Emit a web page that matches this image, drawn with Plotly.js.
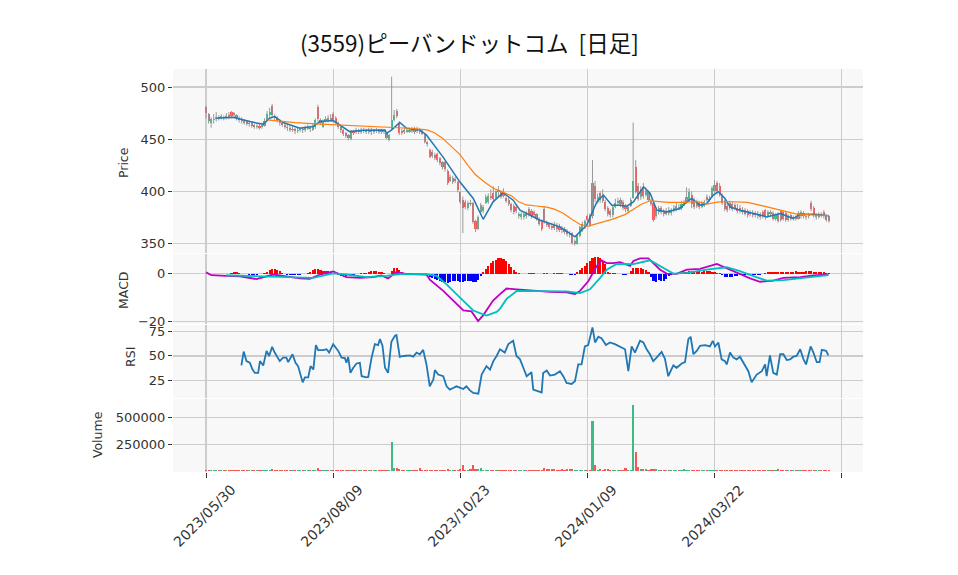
<!DOCTYPE html>
<html>
<head>
<meta charset="utf-8">
<script src="https://cdn.plot.ly/plotly-3.0.1.min.js"></script>
<style>
  body { margin: 0; background: #fff; }
  #chart { width: 958px; height: 575px; }
</style>
</head>
<body>
<div id="chart"></div>
<script>
// 営業日インデックスで描く (0 = 2023/05/30)
const tickIdx = [0, 50, 100, 150, 200, 250];
const tickLabels = ['2023/05/30', '2023/08/09', '2023/10/23', '2024/01/09', '2024/03/22', ''];

// ローソク足
const open = [
  481,474,466,468,469,471,470,471,470,473,
  476,475,473,470,469,467,467,465,466,464,
  462,463,462,463,468,473,482,472,470,468,
  466,464,462,461,459,460,458,459,460,459,
  460,461,459,462,481,468,462,467,470,468,
  474,470,466,462,459,456,454,450,457,457,
  459,457,459,458,457,459,457,458,459,458,
  458,456,449,460,468,477,466,458,459,457,
  457,461,460,460,460,458,455,447,440,438,
  435,436,432,428,428,420,410,409,412,409,
  399,392,390,384,389,389,372,364,380,381,
  389,390,396,398,394,401,399,398,394,392,
  388,386,385,376,375,375,378,383,381,380,
  378,374,372,383,371,369,367,368,367,366,
  365,364,362,360,360,350,350,357,363,366,
  376,377,376,405,390,398,396,390,384,381,
  377,385,389,392,390,386,381,386,394,423,
  405,395,404,397,399,391,389,376,380,384,
  380,378,382,379,382,383,385,384,388,390,
  392,397,392,390,389,385,386,395,392,395,
  400,408,405,396,390,386,389,388,387,384,
  384,382,382,381,380,379,379,378,378,380,
  382,376,380,379,374,378,381,380,379,373,
  377,374,375,374,376,379,376,377,389,384,
  375,375,378,380,376,376
];
const high = [
  482,475,471,474,476,473,474,473,475,476,
  477,476,474,472,471,469,468,468,467,465,
  465,465,466,470,477,480,484,474,472,469,
  467,466,464,463,462,461,461,462,462,463,
  464,463,465,470,483,470,469,472,473,474,
  476,472,467,463,460,457,455,459,459,461,
  460,461,461,460,461,461,460,461,460,460,
  459,457,455,510,478,479,467,460,461,461,
  461,462,462,462,461,459,456,448,441,440,
  437,437,433,429,429,421,416,415,414,410,
  400,395,392,391,392,390,373,377,389,387,
  397,398,402,405,401,405,401,403,395,394,
  389,388,387,380,380,380,381,385,383,382,
  379,375,373,386,372,370,370,371,370,369,
  367,366,364,362,361,354,359,367,371,373,
  378,379,430,410,398,400,402,392,386,383,
  387,393,394,394,392,388,387,394,466,430,
  408,405,408,404,401,393,390,385,386,386,
  383,384,385,384,387,389,388,391,392,404,
  403,400,394,392,391,391,392,397,396,405,
  411,410,408,398,392,389,391,390,389,388,
  387,385,384,383,382,382,381,381,380,382,
  383,382,382,381,379,380,382,382,381,378,
  379,377,377,381,382,381,378,379,391,386,
  379,380,380,382,378,377
];
const low = [
  470,465,461,465,467,468,469,468,469,469,
  470,470,468,466,465,464,463,462,461,460,
  460,459,460,462,467,471,471,468,466,463,
  462,460,458,457,457,455,456,457,456,457,
  459,457,458,460,467,464,461,466,466,467,
  466,464,460,456,453,451,449,449,454,455,
  455,455,456,455,455,454,455,456,455,455,
  455,450,448,459,467,470,454,454,455,456,
  456,456,455,456,455,454,446,443,432,432,
  430,428,425,421,419,406,409,407,408,399,
  388,360,383,382,386,369,361,363,378,379,
  388,388,392,391,392,394,393,394,389,386,
  380,378,379,374,373,373,374,376,374,375,
  372,367,362,369,366,364,363,363,361,361,
  360,359,357,356,349,348,349,356,361,364,
  371,366,374,390,388,389,389,381,376,375,
  375,384,387,385,382,380,380,385,393,398,
  391,392,393,395,390,386,371,374,378,378,
  376,377,377,377,380,381,382,382,386,388,
  390,384,383,384,383,384,385,390,390,394,
  398,397,395,387,381,380,382,381,382,379,
  379,378,377,375,376,375,375,374,373,374,
  373,375,376,372,372,370,371,372,371,371,
  372,372,372,373,374,374,373,374,381,375,
  373,374,375,374,371,370
];
const close = [
  475,467,469,469,471,470,472,470,472,471,
  472,473,470,468,467,466,465,466,463,462,
  463,461,464,467,474,476,473,470,468,466,
  464,462,461,459,460,458,459,460,459,461,
  462,460,463,468,469,466,467,469,468,470,
  468,466,462,459,455,453,451,457,456,459,
  457,459,458,457,459,457,458,459,457,457,
  457,451,454,468,473,472,456,456,457,459,
  459,458,457,458,457,455,447,445,433,434,
  432,430,427,423,421,408,414,413,410,401,
  390,384,385,389,388,371,364,375,387,385,
  395,396,394,393,400,399,395,396,391,388,
  382,380,381,378,378,378,376,378,376,377,
  374,369,364,371,368,366,365,365,364,363,
  363,361,359,358,351,352,357,366,369,372,
  373,368,408,393,395,392,391,383,378,377,
  385,389,391,388,384,383,385,392,410,399,
  393,402,396,400,392,388,373,383,384,380,
  378,381,379,382,384,386,384,388,390,395,
  399,388,385,386,385,389,390,392,393,403,
  406,400,397,389,383,382,384,383,384,381,
  381,380,378,377,378,377,377,376,375,376,
  375,380,378,374,377,372,373,374,373,376,
  374,375,374,379,380,376,375,376,383,377,
  377,378,377,376,373,372
];
const volume = [
  14000,9000,12000,8000,10000,12000,9000,8000,13000,12000,
  12000,8000,6000,6000,7000,6000,6000,5000,6000,6000,
  5000,6000,6000,8000,9000,14000,16000,8000,6000,6000,
  6000,5000,6000,5000,6000,5000,6000,5000,5000,6000,
  6000,5000,8000,12000,32000,12000,8000,6000,6000,6000,
  7000,6000,6000,5000,6000,6000,6000,7000,5000,5000,
  5000,5000,5000,5000,5000,5000,5000,6000,5000,5000,
  6000,10000,12000,268000,31000,28000,18000,9000,7000,6000,
  6000,5000,6000,8000,28000,10000,12000,8000,14000,10000,
  8000,14000,10000,14000,12000,16000,8000,7000,9000,12000,
  20000,58000,14000,10000,18000,58000,22000,16000,26000,12000,
  10000,8000,14000,9000,8000,12000,9000,7000,8000,12000,
  10000,8000,7000,7000,6000,6000,7000,12000,8000,7000,
  8000,9000,12000,31000,20000,20000,20000,18000,14000,12000,
  16000,14000,18000,20000,16000,14000,12000,10000,8000,9000,
  10000,12000,466000,55000,12000,20000,12000,18000,16000,10000,
  8000,9000,8000,7000,8000,31000,12000,14000,614000,178000,
  37000,20000,18000,20000,14000,21000,21000,16000,10000,12000,
  10000,12000,8000,7000,12000,8000,7000,9000,21000,12000,
  10000,12000,8000,7000,6000,7000,12000,8000,12000,10000,
  14000,8000,7000,6000,6000,6000,6000,5000,6000,5000,
  5000,5000,6000,5000,5000,5000,5000,6000,5000,5000,
  5000,6000,5000,6000,5000,21000,8000,12000,6000,5000,
  5000,5000,6000,5000,6000,5000,5000,6000,8000,6000,
  5000,6000,5000,5000,6000,5000
];

// 移動平均 (読み取り点)
const ma5X = [4,10.6,17.2,22.5,25,27,30.3,36.9,42.1,44.8,
  50,52.6,56.5,62,70.4,71,73,76.2,78.9,84.1,
  86.7,93.3,99.8,105.1,109,112.9,116.8,120.8,123.5,131.4,
  139.2,145.1,149.7,153.7,156.3,159.6,162.9,165.5,168.1,172.1,
  174.7,177.3,181.2,186.4,188.4,191,194.3,196.9,199.5,201.5,
  204.1,206.1,210,216.6,220.5,225.8,231,233.6,238.9,245];
const ma5Y = [470,471.1,466.9,464.4,470.1,471.7,466,460.5,462.1,466.9,
  467.9,463.7,457.3,458.5,458.9,455.7,459,466,460.5,458.9,
  454.1,432.6,409.2,393.2,373.3,390,398.7,391.6,382,372.4,
  366,356.4,367.6,390,396.5,386.8,386.8,385.8,390,404.4,
  398,382,380.4,383.6,388.4,393.2,386.8,388.4,396.5,399.7,
  393.2,385.2,382,378.2,375.6,378.8,374,378.2,378.2,376.6];
const ma25X = [24,35,45,55,62,74,80,87,90,93,
  96,100,103,106,110,113,116,120,123,126,
  130,134,137,140.5,144,147,150,153,156,160,
  165,168,171,174.6,178,182,188,193,197,201,
  205,213,219,226,232,238,245];
const ma25Y = [468.5,466,464.5,463.5,462.7,461.4,460.5,458.9,456,451,
  444,435,425,416,408,403,400,396,390,387,
  386,385,383,379,373,368.5,366.6,368.5,370.7,373.5,
  378,383,387.5,391,390,389.4,389.5,390.3,387.8,389.7,
  390.3,389.4,386.2,381.7,378.5,377.5,376.9];

// MACD
const macdX = [0,2.1,8,13.3,19.8,26.4,31.6,36.9,40.8,44.8,
  50,55.2,60.5,65.7,69,71.6,74.9,78.9,86.7,88,
  93.3,97.2,101.2,104.4,107,109,112.9,115.6,118.2,122.2,
  128.7,135.3,141.8,145.1,147.1,150.4,153.6,155.6,157.6,160.2,
  162.8,165.5,166.8,168.1,170.7,174,176,178.6,181.2,185.1,
  189.1,194.3,200.9,207.4,214,217.9,223.2,227.1,233.7,238.9,
  244.8];
const macdY = [0.5,-0.7,-1.0,-1.2,-2.3,-0.4,-1.2,-2.0,-2.2,-0.4,
  0.9,-1.5,-1.8,-1.5,-0.8,-2.0,0.7,-0.2,-0.4,-2.5,
  -7.2,-11.2,-15.3,-15.7,-19.7,-17.3,-11.2,-8.5,-6.2,-6.6,
  -7.2,-7.6,-7.8,-8.5,-7.2,-3.1,3.0,5.4,4.3,4.3,
  4.7,3.6,3.2,5.2,6.3,6.3,4.3,1.6,0,-0.1,
  1.6,1.9,4.0,0.9,-2.0,-3.4,-2.9,-1.8,-1.5,-0.8,
  -0.4];
const signalX = [8,17.5,26.4,36.9,42.1,50,55.2,63.1,71,76.2,
  86.7,90.7,94.6,99.8,105.1,110.3,114.3,115.6,118.2,122.2,
  128.7,141.8,147.1,151,155,157.6,161.5,168.1,174.6,178.6,
  183.8,189.1,196.9,204.8,210,215.3,220.5,227.1,233.7,244.8];
const signalY = [-0.7,-1.0,-1.2,-1.5,-1.8,0.1,-0.4,-1.5,-1.0,-0.2,
  -0.2,-1.0,-4.5,-9.9,-15.3,-17.4,-15.9,-14.6,-10.5,-7.2,
  -7.2,-7.4,-8.1,-6.5,-1.8,1.6,4.0,3.9,5.5,3.0,
  0,0.3,1.6,2.6,1.0,-1.1,-2.9,-2.7,-2.0,-0.7];
const hist = [
  null,null,null,null,null,null,null,null,-0.3,-0.2,
  0.1,0.5,0.5,0.1,-0.2,-0.3,-0.3,-0.5,-0.6,-0.5,
  -0.4,-0.3,-0.1,0.3,0.8,1.3,1.9,1.9,1.5,1.0,
  0.4,-0.2,-0.5,-0.6,-0.7,-0.7,-0.6,-0.5,-0.3,-0.1,
  0.3,0.8,1.3,1.9,1.9,1.6,1.0,0.9,1.0,0.7,
  0.3,-0.3,-0.8,-1.0,-1.1,-1.0,-0.8,-0.6,-0.4,-0.2,
  -0.1,0.1,0.2,0.3,0.6,0.9,1.0,1.0,0.8,0.5,
  0.1,-0.3,-0.2,1.2,2.2,2.3,1.5,0.8,0.4,0.2,
  0.1,0.1,0.0,-0.1,0.0,-0.1,-0.2,-0.5,-1.3,-1.8,
  -2.3,-2.7,-3.0,-3.3,-3.5,-3.8,-3.4,-3.2,-3.0,-3.1,
  -3.4,-3.3,-3.0,-2.9,-3.1,-3.5,-3.4,-2.6,-0.9,0.5,
  1.9,3.2,4.3,5.2,5.8,6.3,6.4,6.0,5.1,4.0,
  2.8,1.6,0.8,0.3,-0.2,-0.3,-0.2,0.2,0.3,0.1,
  -0.2,-0.3,-0.2,0.2,0.1,-0.1,0.0,0.1,0.3,0.2,
  0.1,-0.1,-0.3,-0.6,-0.6,-0.4,0.6,1.6,2.3,3.0,
  4.3,5.3,6.3,7.0,7.0,6.5,5.3,3.9,0.7,0.4,
  0.3,0.2,-0.2,-0.3,-0.5,-0.4,-0.2,1.0,2.3,2.3,
  2.3,2.3,2.0,1.5,0.8,-1.5,-3.1,-3.4,-2.8,-3.1,
  -3.0,-2.4,-1.1,-0.4,0.2,0.3,-0.2,0.3,0.6,0.8,
  0.9,1.0,0.8,0.9,1.0,0.8,0.9,1.0,0.9,0.7,
  0.5,0.3,0.1,-0.8,-1.3,-1.5,-1.5,-1.4,-1.2,-0.9,
  -0.8,-0.8,-0.7,-0.8,-0.7,-0.6,-0.6,-0.5,-0.4,-0.2,
  0.3,0.5,0.6,0.5,0.6,0.7,0.5,0.6,0.8,0.7,
  0.6,0.8,0.9,0.7,0.6,0.8,0.9,1.0,0.9,0.8,
  0.7,0.6,0.5,0.6,0.4,0.3
];

// RSI
const rsiX = [13.9,14.8,15.9,17.2,18.3,19.2,20.5,21.2,22.5,23.8,
  24.8,26,27,29,30.3,31.6,32.3,34,35.2,36.2,
  38,38.9,40.2,41.1,42.2,43.2,44.1,46.1,47.4,48.4,
  50,52,53.3,54.6,55.2,55.9,56.8,57.9,59.2,60.5,
  61.2,63.1,63.8,65.1,66.4,67.7,68.4,69.4,70.4,71.6,
  72.9,74.3,74.9,76.2,77.6,80.2,81.5,82.8,84.1,85.4,
  86.7,87.4,88,89.4,90,91.3,93.3,94.6,95.9,97.2,
  98.5,101.2,102.4,103.8,105.1,107.1,108.4,110.3,111.7,113,
  114.3,115.6,117.5,118.9,120.8,122.1,123.5,124.8,126.1,128,
  128.7,132,132.6,134,135.3,137.2,139.2,140.5,141.8,143.8,
  145.1,146.4,147.7,149,150.3,152,153,154.3,155.6,157.3,
  158.9,160.8,162.8,164.8,166.1,167.4,168.7,170.7,172,173.3,
  174.6,175.9,177.2,179.2,180.5,181.8,183.8,185.1,187.1,188.4,
  189.7,190.6,191.7,193,194.3,196.3,198.2,199.3,200.2,201.5,
  202.8,204.1,204.8,206.1,207.4,208.7,210,212,213.3,214.6,
  216.6,218.6,219.9,220.5,221.8,223.1,224.5,225.8,227.1,228.4,
  229.7,231,232.3,233.7,235,236,237.8,238.9,240.2,241.3,
  242.2,243.9,244.8];
const rsiY = [40.3,54.4,44.7,43,36.1,32.7,32.7,44.7,40.3,55.1,
  49.9,59.2,53.4,44.7,48.2,48.2,43.7,51.7,43,39.6,
  23.1,28.2,28.2,39.6,36.1,61,55.8,55.8,56.8,53.4,
  62,55.1,48.2,47.8,43,48.9,32.7,37.9,42.3,43,
  29.3,28.2,28.6,48.2,62,61,67.1,60.3,37.9,32.7,
  64.4,70.5,71.2,48.9,49.9,50.6,49.2,53.4,51.7,56.1,
  41.3,31,19,25.9,35.5,31,29.3,19,15.6,17.3,
  19,16.3,19,14.9,12.2,11.5,31,39.6,36.1,44.7,
  49.9,56.8,53.4,62,65.4,49.9,46.5,37.9,29.3,33.4,
  15.6,12.8,32.7,35.1,30,31,34.4,29.3,22.4,21.4,
  24.1,41.3,41.3,59.6,61,79.1,63.7,69.5,67.8,61,
  63.7,62,59.6,56.8,34.4,59.6,53.4,65.4,63.7,56.8,
  51.7,44.7,48.2,54.1,47.1,29.3,40.3,37.9,42.3,43.7,
  67.1,69.5,51.7,55.1,60.3,61,59.6,65.4,59.6,63.7,
  46.5,44.7,41.3,53.4,48.2,46.5,49.2,40.3,34.4,23.1,
  31,34.4,41.3,29.3,50.6,32.7,31,51.7,51.7,45.8,
  46.5,49.2,49.9,56.8,46.5,41.3,59.6,53.4,43.7,43.7,
  56.1,55.1,50.6];

const UP = '#3dbb84', DOWN = '#f25858';
const idx = close.map((_, i) => i);
const candleColor = idx.map(i => close[i] > open[i] ? UP : DOWN);

// ヒゲ
const wickX = [], wickY = [];
idx.forEach(i => { wickX.push(i, i, null); wickY.push(low[i], high[i], null); });

const traces = [
  { x: wickX, y: wickY, type: 'scatter', mode: 'lines', xaxis: 'x', yaxis: 'y',
    line: { color: '#999999', width: 1 }, hoverinfo: 'skip' },
  { x: idx, base: idx.map(i => Math.min(open[i], close[i])),
    y: idx.map(i => Math.max(Math.abs(close[i] - open[i]), 0.8)),
    type: 'bar', width: 0.85, xaxis: 'x', yaxis: 'y',
    marker: { color: candleColor, line: { width: 0 } } },
  { x: ma5X, y: ma5Y, type: 'scatter', mode: 'lines', xaxis: 'x', yaxis: 'y',
    line: { color: '#1f77b4', width: 1.5 } },
  { x: ma25X, y: ma25Y, type: 'scatter', mode: 'lines', xaxis: 'x', yaxis: 'y',
    line: { color: '#ff7f0e', width: 1.2 } },

  { x: idx, y: hist, type: 'bar', width: 0.85, xaxis: 'x2', yaxis: 'y2',
    marker: { color: hist.map(v => v >= 0 ? '#ff0000' : '#0000ff'), line: { width: 0 } } },
  { x: macdX, y: macdY, type: 'scatter', mode: 'lines', xaxis: 'x2', yaxis: 'y2',
    line: { color: '#c000c0', width: 1.8 } },
  { x: signalX, y: signalY, type: 'scatter', mode: 'lines', xaxis: 'x2', yaxis: 'y2',
    line: { color: '#00bfbf', width: 1.8 } },

  { x: rsiX, y: rsiY, type: 'scatter', mode: 'lines', xaxis: 'x3', yaxis: 'y3',
    line: { color: '#1f77b4', width: 1.8 } },

  { x: idx, y: volume, type: 'bar', width: 0.85, xaxis: 'x4', yaxis: 'y4',
    marker: { color: candleColor, line: { width: 0 } } }
];

const tickFont = { family: 'DejaVu Sans, sans-serif', size: 13, color: '#333' };
const xRange = [-13, 258.4];
function xAxis(anchor, bottom) {
  return {
    anchor: anchor, domain: [0, 1], range: xRange, fixedrange: true,
    tickmode: 'array', tickvals: tickIdx, showticklabels: false,
    ticks: bottom ? 'outside' : '', ticklen: 5, tickcolor: '#333',
    showgrid: true, gridcolor: '#cccccc', gridwidth: 1.2, zeroline: false, showline: false
  };
}
function yAxis(domain, range, vals, fmt) {
  return {
    domain: domain, range: range, tickmode: 'array', tickvals: vals, tickformat: fmt,
    ticks: 'outside', ticklen: 4, tickcolor: '#333', tickfont: tickFont,
    showgrid: true, gridcolor: '#cccccc', gridwidth: 1.2, zeroline: false, showline: false
  };
}

const axisTitle = (text, x, y) => ({
  text: text, xref: 'paper', yref: 'paper', x: x, y: y, textangle: -90,
  showarrow: false, xanchor: 'center', yanchor: 'middle',
  font: { family: 'DejaVu Sans, sans-serif', size: 12.5, color: '#333' }
});

// 日付ラベル: 目盛の位置を中心に45度回転
const dateLabels = tickLabels.filter(t => t).map((t, i) => ({
  text: t, xref: 'x4', yref: 'paper', x: tickIdx[i] - 0.8, y: -0.108, textangle: -45,
  showarrow: false, xanchor: 'center', yanchor: 'middle',
  font: { family: 'DejaVu Sans, sans-serif', size: 14, color: '#333' }
}));

const layout = {
  width: 958, height: 575,
  margin: { l: 173, r: 95, t: 69, b: 103 },
  paper_bgcolor: '#ffffff', plot_bgcolor: '#f8f8f8',
  showlegend: false, hovermode: false, bargap: 0,
  title: { text: '(3559)ピーバンドットコム\u00a0\u00a0[日足]', x: 0.49, xref: 'container', xanchor: 'center',
    y: 0.923, yref: 'container', yanchor: 'middle',
    font: { family: 'Noto Sans CJK JP, sans-serif', size: 22.5, color: '#111' } },
  xaxis: xAxis('y', false),
  xaxis2: xAxis('y2', false),
  xaxis3: xAxis('y3', false),
  xaxis4: xAxis('y4', true),
  yaxis: yAxis([0.5435, 1], [341, 517.3], [350, 400, 450, 500]),
  yaxis2: yAxis([0.3672, 0.541], [-20.9, 8.1], [-20, 0]),
  yaxis3: yAxis([0.1836, 0.3648], [7.1, 81.5], [25, 50, 75]),
  yaxis4: yAxis([0, 0.1812], [-9000, 669000], [250000, 500000], 'd'),
  annotations: [
    axisTitle('Price', -0.0725, 0.769),
    axisTitle('MACD', -0.0725, 0.4516),
    axisTitle('RSI', -0.0609, 0.2854),
    axisTitle('Volume', -0.110, 0.0918)
  ].concat(dateLabels)
};

Plotly.newPlot('chart', traces, layout, { staticPlot: true, displayModeBar: false });
</script>
</body>
</html>
